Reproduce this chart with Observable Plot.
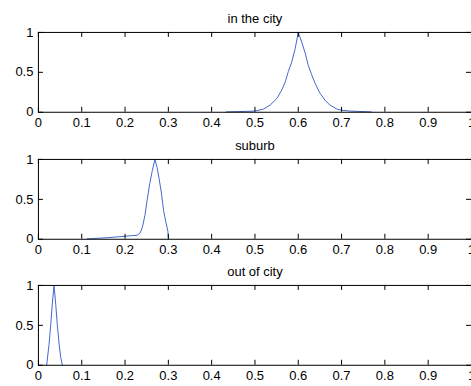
<!DOCTYPE html>
<html>
<head>
<meta charset="utf-8">
<script src="https://cdn.jsdelivr.net/npm/d3@7"></script>
<script src="https://cdn.jsdelivr.net/npm/@observablehq/plot@0.6"></script>
<style>
  html, body { margin: 0; padding: 0; background: #fff; overflow: hidden; }
  #chart svg { display: block; }
</style>
</head>
<body>
<div id="chart"></div>
<script>
// --- data ---
const titles = ["in the city", "suburb", "out of city"];

const cityX = [0.434, 0.46, 0.48, 0.5, 0.52, 0.535, 0.551, 0.562, 0.57, 0.577, 0.585, 0.593, 0.6, 0.608, 0.616, 0.623, 0.631, 0.639, 0.65, 0.662, 0.673, 0.689, 0.7, 0.72, 0.74, 0.768];
const cityY = [0.005, 0.008, 0.011, 0.015, 0.04, 0.09, 0.175, 0.28, 0.38, 0.51, 0.63, 0.8, 1.0, 0.88, 0.74, 0.59, 0.47, 0.36, 0.24, 0.15, 0.09, 0.04, 0.025, 0.015, 0.01, 0.005];

const suburbX = [0.113, 0.13, 0.144, 0.16, 0.182, 0.2, 0.215, 0.228, 0.235, 0.24, 0.246, 0.251, 0.257, 0.263, 0.269, 0.274, 0.278, 0.284, 0.289, 0.294, 0.297, 0.299, 0.3];
const suburbY = [0.005, 0.01, 0.015, 0.02, 0.03, 0.038, 0.045, 0.05, 0.08, 0.15, 0.3, 0.49, 0.7, 0.86, 1.0, 0.9, 0.78, 0.58, 0.36, 0.22, 0.15, 0.1, 0];

const outX = [0.019, 0.0245, 0.0283, 0.0322, 0.036, 0.04, 0.0437, 0.0475, 0.0514, 0.0552];
const outY = [0, 0.26, 0.5, 0.78, 1.0, 0.76, 0.5, 0.28, 0.1, 0];

const xTicks = [0, 0.1, 0.2, 0.3, 0.4, 0.5, 0.6, 0.7, 0.8, 0.9, 1];
const xLabels = ["0", "0.1", "0.2", "0.3", "0.4", "0.5", "0.6", "0.7", "0.8", "0.9", "1"];
const yTicks = [0, 0.5, 1];
const yLabels = ["0", "0.5", "1"];

const series = [[cityX, cityY], [suburbX, suburbY], [outX, outY]];
const tops = [32, 29, 29];
const bottoms = [18, 18, 20];

const font = "'Liberation Sans', Arial, Helvetica, sans-serif";
const W = 472, ML = 38, PH = 80, PW = W - ML, TL = 5;

function subplot(k) {
  const [xs, ys] = series[k];
  const pts = xs.map((x, i) => ({x, y: ys[i]}));
  return Plot.plot({
    width: W,
    height: tops[k] + PH + bottoms[k],
    marginLeft: ML,
    marginRight: 0,
    marginTop: tops[k],
    marginBottom: bottoms[k],
    x: {domain: [0, 1], axis: null},
    y: {domain: [0, 1], axis: null},
    style: {fontFamily: font, fontSize: "13px", background: "transparent", color: "#000", overflow: "visible"},
    marks: [
      Plot.line(pts, {x: "x", y: "y", stroke: "#4466cc", strokeWidth: 1}),
      Plot.frame({stroke: "#000", strokeWidth: 1}),
      Plot.tickX(xTicks, {x: d => d, insetTop: PH - TL, stroke: "#000"}),
      Plot.tickX(xTicks, {x: d => d, insetBottom: PH - TL, stroke: "#000"}),
      Plot.tickY(yTicks, {y: d => d, insetRight: PW - TL, stroke: "#000"}),
      Plot.tickY(yTicks, {y: d => d, insetLeft: PW - TL, stroke: "#000"}),
      Plot.text(xTicks, {x: d => d, text: (d, i) => xLabels[i], frameAnchor: "bottom", lineAnchor: "top", dy: 6, fontSize: 13, fill: "#000"}),
      Plot.text(yTicks, {y: d => d, text: (d, i) => yLabels[i], frameAnchor: "left", textAnchor: "end", lineAnchor: "middle", dx: -5, fontSize: 13, fill: "#000"}),
      Plot.text([titles[k]], {text: d => d, frameAnchor: "top", lineAnchor: "middle", dy: -14, fontSize: 13, fill: "#000"})
    ]
  });
}

const chart = document.getElementById("chart");
for (let k = 0; k < 3; k++) chart.appendChild(subplot(k));
</script>
</body>
</html>
